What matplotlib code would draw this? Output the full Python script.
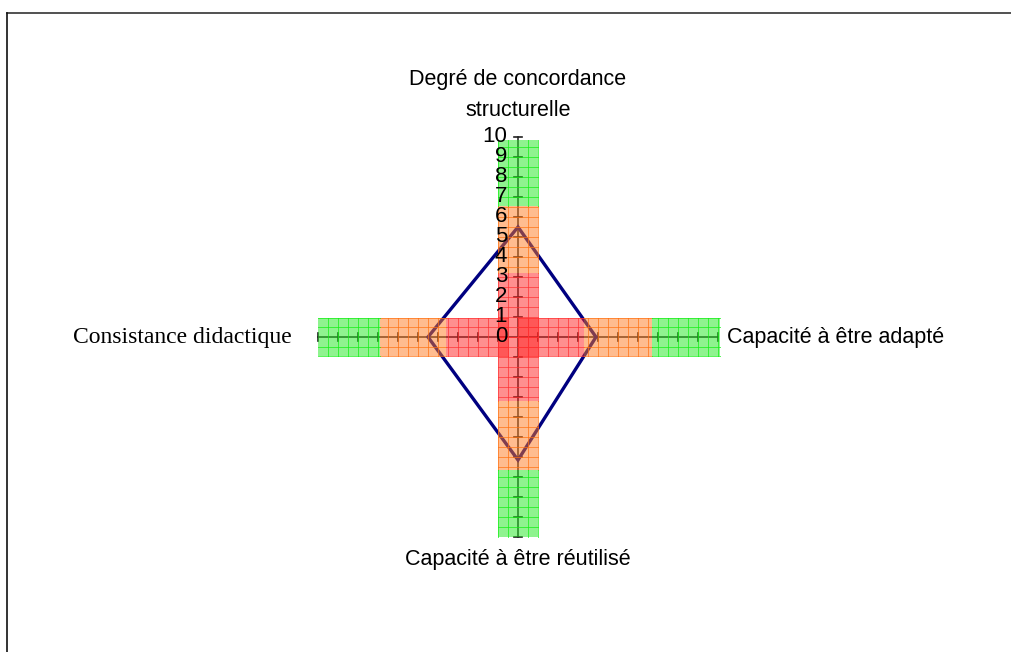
import numpy as np
import matplotlib
matplotlib.use("Agg")
import matplotlib.pyplot as plt
from matplotlib.patches import Polygon
from matplotlib.lines import Line2D

# axes of the radar, clockwise from the top
axis_names = ["Degré de concordance\nstructurelle",
              "Capacité à être adapté",
              "Capacité à être réutilisé",
              "Consistance didactique"]
angles_deg = [90, 0, 270, 180]
scores = [5.5, 3.9, 6.15, 4.5]

# colour bands along each axis: red up to band_lo, orange up to band_hi, green up to the end
band_start = [0.0, 0.0, 0.0, 0.5]
band_lo = [3.2, 3.3, 3.2, 3.6]
band_hi = [6.55, 6.7, 6.65, 6.9]
band_end = [9.85, 10.1, 10.0, 10.0]
band_half = [1.0, 0.95, 1.0, 0.95]

tick_values = list(range(0, 11))
rmax = 10

band_colors = [("#ff2020", "#ff3030"), ("#ff7a20", "#ff7010"), ("#20e820", "#10f010")]

fig = plt.figure(figsize=(10.12, 6.52), dpi=100)
ax = fig.add_axes([0, 0, 1, 1])
ax.set_xlim(-25.9, 24.7)
ax.set_ylim(-15.75, 16.85)
ax.axis("off")

dirs = [(np.cos(np.radians(a)), np.sin(np.radians(a))) for a in angles_deg]

def pt(d, r, s=0.0):
    # point at distance r along direction d, shifted s sideways
    return (d[0] * r - d[1] * s, d[1] * r + d[0] * s)

# axis lines and ticks
for i, d in enumerate(dirs):
    p0, p1 = pt(d, 0), pt(d, rmax)
    ax.plot([p0[0], p1[0]], [p0[1], p1[1]], color="#303030", lw=1.2, zorder=1)
    for t in tick_values[1:]:
        a, b = pt(d, t, -0.2), pt(d, t, 0.2)
        ax.plot([a[0], b[0]], [a[1], b[1]], color="#202020", lw=1.2, zorder=1)

# score polygon, under the bands
pts = [pt(d, v) for d, v in zip(dirs, scores)]
ax.add_patch(Polygon(pts, closed=True, fill=False, edgecolor="#000080",
                     lw=2.4, joinstyle="miter", zorder=2))

# bands with their fine grid
for i, d in enumerate(dirs):
    edges = [band_start[i], band_lo[i], band_hi[i], band_end[i]]
    h = band_half[i]
    for k in range(3):
        r0, r1 = edges[k], edges[k + 1]
        face, grid = band_colors[k]
        corners = [pt(d, r0, -h), pt(d, r1, -h), pt(d, r1, h), pt(d, r0, h)]
        ax.add_patch(Polygon(corners, closed=True, facecolor=face, edgecolor="none",
                             alpha=0.5, zorder=3))
        for r in np.arange(np.ceil(r0 * 2) / 2, r1, 0.5):
            a, b = pt(d, r, -h), pt(d, r, h)
            ax.plot([a[0], b[0]], [a[1], b[1]], color=grid, lw=0.7, alpha=0.7, zorder=3)
        for s in (-h, -0.5, 0.5, h):
            a, b = pt(d, r0, s), pt(d, r1, s)
            ax.plot([a[0], b[0]], [a[1], b[1]], color=grid, lw=0.7, alpha=0.7, zorder=3)

# value labels on the top axis
for t in tick_values:
    ax.text(-0.55, t, str(t), ha="right", va="center", fontsize=16,
            family="Liberation Sans", color="black", zorder=4)

# axis titles
ax.text(0, 12.1, axis_names[0], ha="center", va="center", fontsize=15.5,
        family="Liberation Sans", linespacing=1.6)
ax.text(10.45, 0, axis_names[1], ha="left", va="center", fontsize=15.5,
        family="Liberation Sans")
ax.text(0, -11.15, axis_names[2], ha="center", va="center", fontsize=15.5,
        family="Liberation Sans")
ax.text(-11.3, 0, axis_names[3], ha="right", va="center", fontsize=17,
        family="Liberation Serif")

# outer frame (top and left edges visible)
fx, fy = 7 / 1012, 1 - 13 / 652
fig.add_artist(Line2D([fx, 1], [fy, fy], color="#333333", lw=1.2))
fig.add_artist(Line2D([fx, fx], [0, fy], color="#111111", lw=1.2))

fig.savefig("out.png", dpi=100)
